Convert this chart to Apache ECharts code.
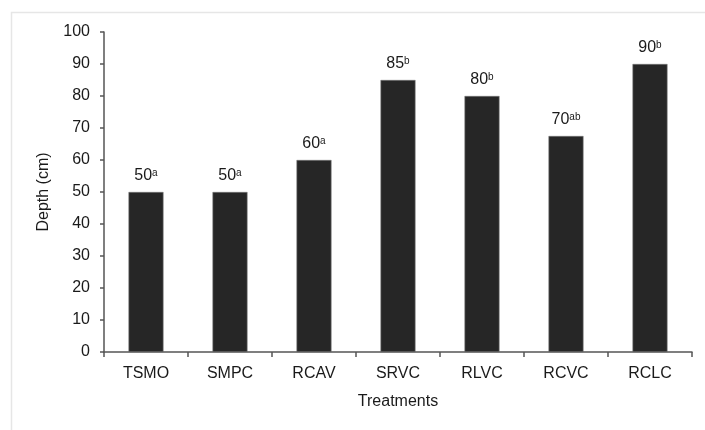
<!DOCTYPE html>
<html><head><meta charset="utf-8">
<script src="https://cdn.jsdelivr.net/npm/echarts@6/dist/echarts.min.js"></script>
<style>html,body{margin:0;padding:0;background:#fff}#c{width:705px;height:430px}</style>
</head><body><div id="c"></div>
<script>
var categories = ['TSMO','SMPC','RCAV','SRVC','RLVC','RCVC','RCLC'];
var depths = [50, 50, 60, 85, 80, 67.5, 90];
var labelValues = ['50','50','60','85','80','70','90'];
var labelLetters = ['a','a','a','b','b','ab','b'];
var yTicks = [0,10,20,30,40,50,60,70,80,90,100];

var chart = echarts.init(document.getElementById('c'));
var font = 'Liberation Sans, Arial, sans-serif';
chart.setOption({
  animation: false,
  graphic: [{type:'rect', left:9, top:10, shape:{width:720,height:440}, style:{fill:'none', stroke:'#e6e6e6', lineWidth:1.5}, silent:true}],
  grid: {left:104, right:13, top:32, bottom:78},
  xAxis: {
    type:'category', data: categories,
    name:'Treatments', nameLocation:'middle', nameGap:42,
    nameTextStyle:{fontFamily:font, fontSize:16, color:'#1a1a1a'},
    axisLine:{lineStyle:{color:'#555', width:1.5}},
    axisTick:{show:true, length:5, lineStyle:{color:'#555', width:1.5}},
    axisLabel:{fontFamily:font, fontSize:16, color:'#1a1a1a', margin:14}
  },
  yAxis: {
    type:'value', min:yTicks[0], max:yTicks[yTicks.length-1], interval:10,
    name:'Depth (cm)', nameLocation:'middle', nameGap:52,
    nameTextStyle:{fontFamily:font, fontSize:16, color:'#1a1a1a'},
    axisLine:{show:true, lineStyle:{color:'#555', width:1.5}},
    axisTick:{show:true, length:4, lineStyle:{color:'#555', width:1.5}},
    splitLine:{show:false},
    axisLabel:{fontFamily:font, fontSize:16, color:'#1a1a1a', margin:14}
  },
  series: [{
    type:'bar', data: depths, barWidth:35,
    itemStyle:{color:'#262626', borderColor:'#777', borderWidth:0.6},
    label:{
      show:true, position:'top', distance:8,
      formatter:function(p){ return '{v|' + labelValues[p.dataIndex] + '}{s|' + labelLetters[p.dataIndex] + '}'; },
      rich:{
        v:{fontFamily:font, fontSize:16, color:'#1a1a1a'},
        s:{fontFamily:font, fontSize:10, color:'#1a1a1a', verticalAlign:'top', padding:[0,0,6,0]}
      }
    }
  }]
});
</script></body></html>
